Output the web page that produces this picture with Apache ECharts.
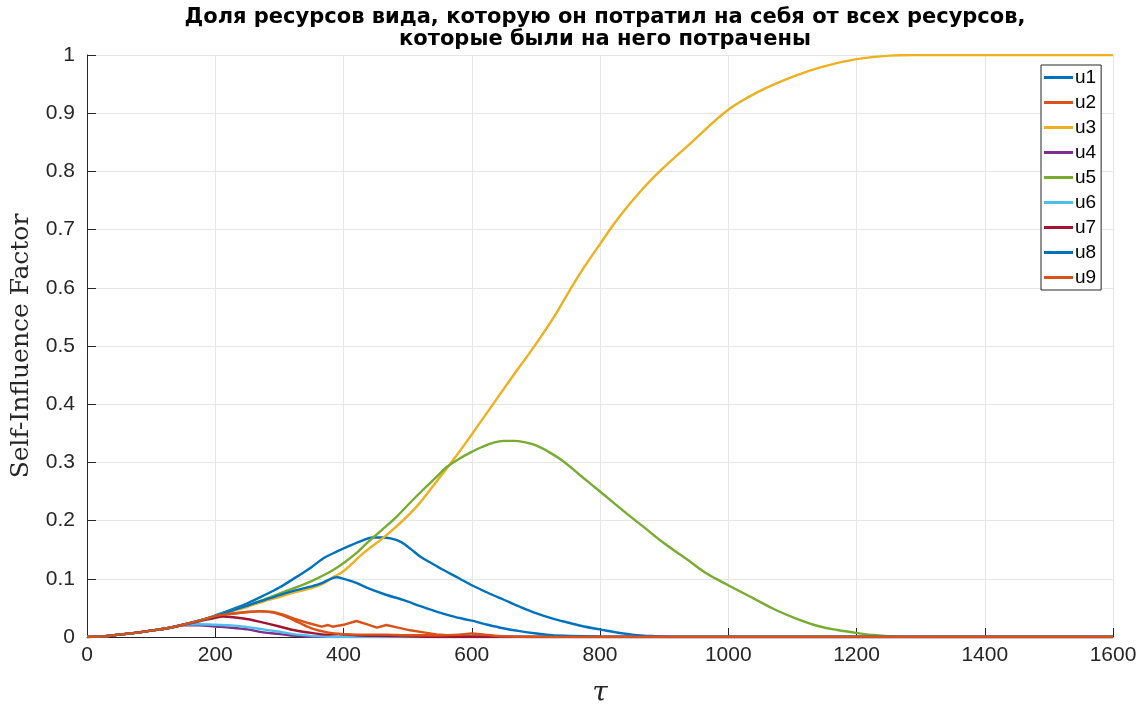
<!DOCTYPE html>
<html>
<head>
<meta charset="utf-8">
<script src="https://cdn.jsdelivr.net/npm/echarts@6/dist/echarts.min.js"></script>
<style>
  html, body { margin: 0; padding: 0; background: #fff; }
  #chart { width: 1148px; height: 706px; }
</style>
</head>
<body>
<div id="chart"></div>
<script>
// Self-influence factor of each species, u1..u9, versus tau: [tau, value]
const u1 = [[0,0],[25,0.001],[50,0.004],[75,0.007],[100,0.011],[125,0.015],[150,0.021],[175,0.028],[200,0.037],[225,0.047],[250,0.058],[275,0.071],[300,0.085],[325,0.102],[350,0.12],[370,0.136],[390,0.147],[410,0.157],[430,0.166],[445,0.171],[460,0.171],[475,0.169],[490,0.163],[505,0.151],[520,0.138],[540,0.125],[556,0.115],[580,0.101],[600,0.089],[625,0.076],[650,0.064],[675,0.052],[700,0.041],[725,0.032],[753,0.024],[775,0.018],[800,0.013],[825,0.008],[850,0.004],[875,0.002],[900,0.0005],[950,0],[1600,0]];
const u2 = [[0,0],[25,0.001],[50,0.004],[75,0.007],[100,0.011],[125,0.015],[150,0.021],[175,0.028],[200,0.036],[225,0.04],[250,0.043],[270,0.0445],[290,0.043],[305,0.039],[322,0.032],[345,0.024],[366,0.0177],[376,0.0206],[383,0.0177],[400,0.021],[420,0.0275],[436,0.022],[452,0.016],[467,0.0206],[485,0.016],[504,0.0115],[525,0.008],[545,0.0046],[578,0.002],[620,0.001],[700,0],[1600,0]];
const u3 = [[0,0],[25,0.001],[50,0.004],[75,0.007],[100,0.011],[125,0.015],[150,0.021],[175,0.028],[200,0.036],[225,0.044],[250,0.052],[275,0.061],[301,0.069],[325,0.077],[350,0.084],[363,0.089],[375,0.096],[384,0.103],[400,0.113],[431,0.144],[467,0.175],[509,0.218],[540,0.26],[571,0.304],[600,0.348],[630,0.395],[660,0.442],[701,0.505],[730,0.553],[753,0.596],[775,0.635],[800,0.675],[820,0.707],[841,0.737],[865,0.768],[893,0.8],[945,0.852],[1000,0.906],[1049,0.938],[1101,0.963],[1148,0.98],[1200,0.993],[1252,0.999],[1290,1],[1600,1]];
const u4 = [[0,0],[25,0.001],[50,0.004],[75,0.007],[100,0.011],[125,0.015],[150,0.02],[175,0.02],[200,0.018],[225,0.016],[250,0.013],[275,0.008],[301,0.005],[325,0.002],[350,0.0005],[380,0],[1600,0]];
const u5 = [[0,0],[25,0.001],[50,0.004],[75,0.007],[100,0.011],[125,0.015],[150,0.021],[175,0.028],[200,0.036],[225,0.045],[250,0.054],[275,0.064],[301,0.075],[325,0.085],[342,0.092],[365,0.104],[384,0.115],[400,0.127],[420,0.144],[436,0.161],[460,0.184],[483,0.207],[505,0.232],[524,0.253],[545,0.275],[561,0.292],[580,0.306],[600,0.318],[615,0.326],[634,0.334],[650,0.337],[665,0.337],[685,0.334],[701,0.329],[717,0.32],[740,0.304],[769,0.278],[800,0.25],[835,0.218],[867,0.19],[900,0.161],[935,0.134],[965,0.11],[1000,0.089],[1040,0.066],[1075,0.046],[1110,0.03],[1143,0.018],[1170,0.012],[1200,0.007],[1230,0.003],[1260,0.001],[1300,0],[1600,0]];
const u6 = [[0,0],[25,0.001],[50,0.004],[75,0.007],[100,0.011],[125,0.015],[150,0.021],[175,0.022],[200,0.021],[225,0.02],[250,0.017],[275,0.013],[301,0.009],[322,0.005],[350,0.002],[380,0],[1600,0]];
const u7 = [[0,0],[25,0.001],[50,0.004],[75,0.007],[100,0.011],[125,0.015],[150,0.021],[175,0.027],[200,0.033],[212,0.035],[228,0.034],[254,0.03],[270,0.026],[300,0.018],[322,0.012],[350,0.007],[374,0.004],[390,0.005],[400,0.0045],[420,0.003],[450,0.002],[500,0.001],[550,0],[1600,0]];
const u8 = [[0,0],[25,0.001],[50,0.004],[75,0.007],[100,0.011],[125,0.015],[150,0.021],[175,0.028],[200,0.036],[225,0.045],[250,0.054],[275,0.063],[300,0.072],[325,0.08],[350,0.087],[365,0.092],[380,0.1],[390,0.1026],[400,0.1],[420,0.093],[441,0.0825],[465,0.073],[493,0.0636],[520,0.053],[545,0.0435],[575,0.034],[600,0.028],[625,0.021],[649,0.015],[675,0.01],[701,0.006],[725,0.003],[753,0.002],[800,0.0005],[850,0],[1600,0]];
const u9 = [[0,0],[25,0.001],[50,0.004],[75,0.007],[100,0.011],[125,0.015],[150,0.021],[175,0.028],[200,0.036],[225,0.04],[250,0.043],[270,0.044],[290,0.042],[310,0.035],[330,0.025],[350,0.015],[375,0.008],[400,0.005],[430,0.004],[467,0.004],[500,0.003],[550,0.003],[580,0.004],[600,0.006],[620,0.004],[650,0.001],[700,0],[1600,0]];

const seriesNames = ['u1','u2','u3','u4','u5','u6','u7','u8','u9'];
const seriesData = [u1, u2, u3, u4, u5, u6, u7, u8, u9];
const palette = ['#0072BD','#D95319','#EDB120','#7E2F8E','#77AC30','#4DBEEE','#A2142F','#0072BD','#D95319'];
const smoothness = [0.35, false, 0.4, 0.35, 0.4, 0.35, 0.3, 0.3, 0.3];

const titleText = 'Доля ресурсов вида, которую он потратил на себя от всех ресурсов,\nкоторые были на него потрачены';
const xName = 'τ';
const yName = 'Self-Influence Factor';

const chart = echarts.init(document.getElementById('chart'), null, { renderer: 'canvas' });

const axisColor = '#262626';
const gridColor = '#e6e6e6';

chart.setOption({
  animation: false,
  backgroundColor: '#ffffff',
  color: palette,
  title: {
    text: titleText,
    left: 600,
    textAlign: 'center',
    top: 2,
    textStyle: {
      fontFamily: 'DejaVu Sans',
      fontWeight: 'bold',
      fontSize: 21,
      lineHeight: 22,
      color: '#000'
    }
  },
  legend: {
    data: seriesNames,
    orient: 'vertical',
    left: 1041,
    top: 65,
    padding: [3, 5, 3, 3],
    itemWidth: 29,
    itemHeight: 3,
    itemGap: 6,
    icon: 'rect',
    borderColor: '#262626',
    borderWidth: 1,
    backgroundColor: '#ffffff',
    textStyle: {
      fontFamily: 'Liberation Sans',
      fontSize: 19,
      lineHeight: 18,
      height: 18,
      color: '#000',
      padding: [0, 0, 0, -3]
    }
  },
  grid: {
    left: 87,
    right: 35,
    top: 55,
    bottom: 69,
    containLabel: false,
    outerBoundsMode: 'none'
  },
  xAxis: {
    type: 'value',
    min: 0,
    max: 1600,
    interval: 200,
    name: xName,
    nameLocation: 'middle',
    nameGap: 43,
    nameTextStyle: {
      fontFamily: 'DejaVu Serif',
      fontStyle: 'italic',
      fontSize: 28,
      color: axisColor
    },
    axisLine: { show: true, lineStyle: { color: axisColor, width: 1 } },
    axisTick: { show: true, inside: true, length: 9, lineStyle: { color: axisColor } },
    axisLabel: {
      fontFamily: 'Liberation Sans',
      fontSize: 21,
      color: axisColor,
      margin: 8,
      formatter: function (v) { return String(v); }
    },
    splitLine: { show: true, lineStyle: { color: gridColor, width: 1 } }
  },
  yAxis: {
    type: 'value',
    min: 0,
    max: 1,
    interval: 0.1,
    name: yName,
    nameLocation: 'middle',
    nameRotate: 90,
    nameGap: 53,
    nameTextStyle: {
      fontFamily: 'DejaVu Serif',
      fontSize: 25,
      color: axisColor
    },
    axisLine: { show: true, lineStyle: { color: axisColor, width: 1 } },
    axisTick: { show: true, inside: true, length: 9, lineStyle: { color: axisColor } },
    axisLabel: {
      fontFamily: 'Liberation Sans',
      fontSize: 21,
      color: axisColor,
      margin: 12,
      formatter: function (v) { return String(Math.round(v * 10) / 10); }
    },
    splitLine: { show: true, lineStyle: { color: gridColor, width: 1 } }
  },
  series: seriesNames.map(function (name, i) {
    return {
      name: name,
      type: 'line',
      data: seriesData[i],
      showSymbol: false,
      smooth: smoothness[i],
      clip: true,
      lineStyle: { width: 2.4, color: palette[i] },
      itemStyle: { color: palette[i] },
      emphasis: { disabled: true }
    };
  })
});
</script>
</body>
</html>
